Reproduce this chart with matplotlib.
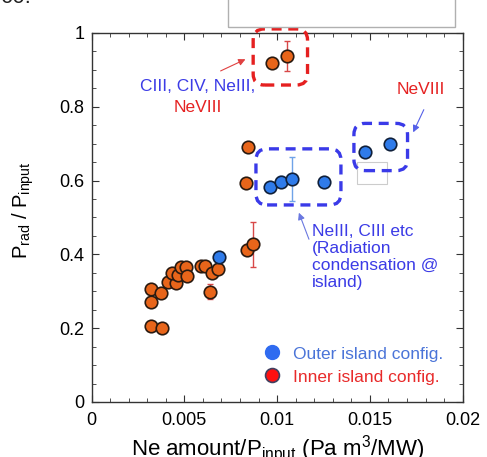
import numpy as np
import matplotlib
matplotlib.use('Agg')
import matplotlib.pyplot as plt
from matplotlib.patches import FancyBboxPatch, Rectangle
from matplotlib.lines import Line2D
from matplotlib.ticker import MultipleLocator

plt.rcParams['font.family'] = ['Liberation Sans', 'DejaVu Sans']

# inner island config (orange points)
inner_x = [0.00323, 0.00381, 0.00323, 0.00323, 0.00372, 0.00413, 0.00454,
           0.00434, 0.00464, 0.0048, 0.00508, 0.00512, 0.00589, 0.00611,
           0.00647, 0.00682, 0.00638, 0.00839, 0.00871, 0.00844, 0.0083,
           0.00974, 0.01051]
inner_y = [0.206, 0.201, 0.272, 0.305, 0.295, 0.326, 0.322,
           0.350, 0.344, 0.365, 0.365, 0.342, 0.369, 0.369,
           0.350, 0.360, 0.299, 0.412, 0.427, 0.690, 0.593,
           0.920, 0.938]
inner_err = [0, 0, 0, 0, 0, 0, 0,
             0, 0, 0, 0, 0, 0.012, 0.012,
             0.012, 0.012, 0.02, 0.015, 0.06, 0, 0,
             0, 0.04]

# outer island config (blue points)
outer_x = [0.00688, 0.00961, 0.01019, 0.01078, 0.01254, 0.01473, 0.01608]
outer_y = [0.392, 0.582, 0.597, 0.604, 0.595, 0.678, 0.698]
outer_err = [0.015, 0.0, 0.015, 0.06, 0.0, 0.01, 0.012]

orange = '#E8651A'
blue = '#2F7BEA'
txt_blue = '#3B3BE6'
txt_red = '#E52222'

fig = plt.figure(figsize=(4.87, 4.57), dpi=100)
ax = fig.add_axes([0.188, 0.1204, 0.762, 0.8074])

ax.errorbar(inner_x, inner_y, yerr=inner_err, fmt='none', ecolor='#D84848',
            elinewidth=1.0, capsize=2.5, zorder=2)
ax.errorbar(outer_x, outer_y, yerr=outer_err, fmt='none', ecolor='#6FA3E8',
            elinewidth=1.0, capsize=2.5, zorder=2)
ax.plot(inner_x, inner_y, 'o', color=orange, mec='#2a1a10', mew=1.2, ms=9, zorder=3)
ax.plot(outer_x, outer_y, 'o', color=blue, mec='#10203a', mew=1.2, ms=9, zorder=3)

ax.set_xlim(0, 0.02)
ax.set_ylim(0, 1)
ax.xaxis.set_minor_locator(MultipleLocator(0.001))
ax.yaxis.set_minor_locator(MultipleLocator(0.05))
ax.set_xticks([0, 0.005, 0.01, 0.015, 0.02], ['0', '0.005', '0.01', '0.015', '0.02'])
ax.set_yticks([0, 0.2, 0.4, 0.6, 0.8, 1], ['0', '0.2', '0.4', '0.6', '0.8', '1'])
ax.tick_params(which='both', direction='in', top=True, right=True, labelsize=13,
               color='#333333')
ax.tick_params(axis='x', pad=7)
ax.tick_params(axis='y', pad=5)
ax.tick_params(which='major', length=5)
ax.tick_params(which='minor', length=3)
for s in ax.spines.values():
    s.set_color('#333333')
    s.set_linewidth(1.0)

ax.set_xlabel('Ne amount/P$_{\\mathregular{input}}$ (Pa m$^{\\mathregular{3}}$/MW)',
              fontsize=16, labelpad=3)
ax.set_ylabel('P$_{\\mathregular{rad}}$ / P$_{\\mathregular{input}}$', fontsize=14.5)
ax.yaxis.set_label_coords(-0.15, 0.52)

# dashed boxes, in axes fraction (x/0.02, y)
boxes = [(0.4355, 0.859, 0.1465, 0.152, '#E52020'),
         (0.443, 0.534, 0.229, 0.152, '#3A3AE8'),
         (0.707, 0.627, 0.1445, 0.128, '#3A3AE8')]
for bx, by, bw, bh, c in boxes:
    ax.add_patch(FancyBboxPatch((bx, by), bw, bh, boxstyle='round,pad=0,rounding_size=0.03',
                                transform=ax.transAxes, mutation_aspect=1.0,
                                fill=False, ec=c, lw=2.4, ls=(0, (3, 2)), clip_on=False, zorder=4))
ax.add_patch(Rectangle((0.714, 0.590), 0.081, 0.06, transform=ax.transAxes,
                       fill=False, ec='#cccccc', lw=0.8, zorder=1))

# labels
ax.text(0.0057, 0.854, 'CIII, CIV, NeIII,', color=txt_blue, fontsize=12.5, ha='center', va='center')
ax.text(0.0057, 0.797, 'NeVIII', color=txt_red, fontsize=12.5, ha='center', va='center')
ax.text(0.01773, 0.846, 'NeVIII', color=txt_red, fontsize=12.5, ha='center', va='center')
ax.text(0.0119, 0.482, 'NeIII, CIII etc\n(Radiation\ncondensation @\nisland)', color=txt_blue,
        fontsize=12.5, ha='left', va='top', linespacing=1.15)

ax.annotate('', xy=(0.00843, 0.932), xytext=(0.00682, 0.894),
            arrowprops=dict(arrowstyle='-|>', color='#E04040', lw=0.8, mutation_scale=10))
ax.annotate('', xy=(0.01727, 0.724), xytext=(0.01797, 0.799),
            arrowprops=dict(arrowstyle='-|>', color='#5560E8', lw=0.8, mutation_scale=10))
ax.annotate('', xy=(0.01112, 0.520), xytext=(0.01177, 0.434),
            arrowprops=dict(arrowstyle='-|>', color='#6A78E0', lw=0.8, mutation_scale=10))

handles = [Line2D([], [], ls='', marker='o', color='#2F6BF0', mec='#2F6BF0', ms=10),
           Line2D([], [], ls='', marker='o', color='#FF1010', mec='#404060', mew=1.2, ms=10)]
ax.legend(handles, ['Outer island config.', 'Inner island config.'], loc='lower right',
          bbox_to_anchor=(0.99, 0.005), frameon=False, fontsize=12.5, handletextpad=0.7,
          labelspacing=0.45, labelcolor=['#4A74D8', '#E82A2A'], handlelength=1.0)

# cut-off frame and text from the surrounding page
fig.patches.append(Rectangle((0.469, 0.9416), 0.465, 0.2, transform=fig.transFigure,
                             fill=False, ec='#b0b0b0', lw=1.0))
fig.text(0.0, 1.005, '00.', fontsize=16, ha='left', va='center', color='#222222')

fig.savefig('out.png', dpi=100)
